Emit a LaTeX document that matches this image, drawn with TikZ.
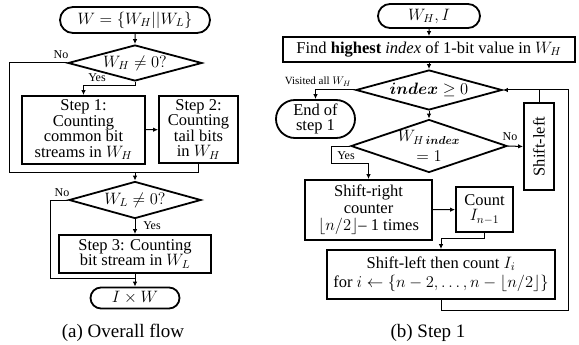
\documentclass[tikz,border=0pt]{standalone}
\usepackage{fix-cm}
\usepackage{amsmath}
\usepackage{fontspec}
\setmainfont{Liberation Serif}
\usepackage{tikz}
\usetikzlibrary{positioning,shapes.geometric,shapes.misc,arrows.meta}
\newcommand{\flowfont}{\fontsize{16.5}{15.5}\selectfont}
\newcommand{\lblfont}{\fontsize{12}{12}\selectfont}
\newcommand{\capfont}{\fontsize{19}{19}\selectfont}
\tikzset{>={Latex[length=5pt,width=4.5pt]}}
\tikzset{flowbox/.style={draw,line width=1.8pt,align=center,inner sep=0pt,font=\flowfont}}
\tikzset{termbox/.style={flowbox,rounded rectangle}}
\tikzset{decide/.style={flowbox,diamond,aspect=3}}
\tikzset{link/.style={line width=1pt}}
\tikzset{lbl/.style={inner sep=1pt,font=\lblfont}}
\tikzset{caption/.style={inner sep=0pt,font=\capfont}}

\begin{document}
\begin{tikzpicture}[x=1pt, y=-1pt]
    \useasboundingbox (0,0) rectangle (579,345);
    % (a) overall flow
    \node[termbox, minimum width=150pt, minimum height=26pt] (wsplit) at (135,20) {$W = \{W_H||W_L\}$};
    \node[decide, minimum width=134pt, minimum height=36pt] (ifhigh) at (135,63) {$W_H \neq 0?$};
    \node[flowbox, minimum width=123pt, minimum height=68pt] (step1) at (83.5,130) {Step 1:\\Counting\\common bit\\streams in $W_H$};
    \node[flowbox, minimum width=79pt, minimum height=67pt] (step2) at (198.5,129.5) {Step 2:\\Counting\\tail bits\\in $W_H$};
    \node[decide, minimum width=132pt, minimum height=37pt] (iflow) at (135,200) {$W_L \neq 0?$};
    \node[flowbox, minimum width=152pt, minimum height=38pt] (step3) at (135,254) {Step 3: Counting\\bit stream in $W_L$};
    \node[termbox, minimum width=89pt, minimum height=21pt] (result) at (135,298) {$I \times W$};
    \coordinate (joinhigh) at (135,172);
    \coordinate (joinlow) at (135,278);

    \node[lbl] (nohigh) at (61,55) {No};
    \node[lbl] (yeshigh) at (97,78) {Yes};
    \node[lbl] (nolow) at (62,193) {No};
    \node[lbl] (yeslow) at (152,226) {Yes};

    \draw[link,->] (wsplit) -- (ifhigh);
    \draw[link,->] (ifhigh.south) -- ++(0,4) -| (step1.north);
    \draw[link,->] (step1) -- (step2);
    \draw[link] (ifhigh.west) -- (9,63) |- (joinhigh);
    \draw[link] (step2.south) |- (joinhigh);
    \draw[link,->] (joinhigh) -- (iflow.north);
    \draw[link,->] (iflow) -- (step3);
    \draw[link] (iflow.west) -- (50,200) |- (joinlow);
    \draw[link] (step3.south) -- (joinlow);
    \draw[link,->] (joinlow) -- (result.north);

    \node[caption] (capa) at (123,333) {(a) Overall flow};

    % (b) step 1
    \node[termbox, minimum width=102pt, minimum height=24pt] (input) at (429,16) {$W_H, I$};
    \node[flowbox, minimum width=292pt, minimum height=25pt] (findidx) at (429,49.5) {Find \textbf{highest} \textit{index} of 1-bit value in $W_H$};
    \node[decide, minimum width=146pt, minimum height=40pt] (idxchk) at (429,90) {$\boldsymbol{index} \geq 0$};
    \node[termbox, minimum width=79pt, minimum height=38pt] (stop) at (315.5,119) {End of\\step 1};
    \node[decide, minimum width=156pt, minimum height=53pt, font=\fontsize{16.5}{20}\selectfont] (bitchk) at (429,146) {$W_{H\,\boldsymbol{index}}$\\$= 1$};
    \node[flowbox, rotate=90, minimum width=87pt, minimum height=30pt] (shl) at (539,146.5) {Shift-left};
    \node[flowbox, minimum width=127pt, minimum height=60pt, font=\fontsize{16.5}{17}\selectfont] (shr) at (368.5,210) {Shift-right\\counter\\$\lfloor n/2\rfloor$– 1 times};
    \node[flowbox, minimum width=57pt, minimum height=45pt] (cnt) at (484.5,209.5) {Count\\$I_{n-1}$};
    \node[flowbox, minimum width=228pt, minimum height=49pt, font=\fontsize{16.5}{19.5}\selectfont] (shlcnt) at (441,274.5) {Shift-left then count $I_i$\\for $i \leftarrow \{n-2, \ldots, n-\lfloor n/2\rfloor\}$};
    \coordinate (back) at (568,90);

    \node[lbl, font=\fontsize{11}{11}\selectfont] (visited) at (318,82) {Visited all $W_H$};
    \node[lbl] (nobit) at (510,137) {No};
    \node[lbl] (yesbit) at (346,156) {Yes};

    \draw[link,->] (input) -- (findidx);
    \draw[link,->] (findidx) -- (idxchk);
    \draw[link,->] (idxchk) -- (bitchk);
    \draw[link,->] (idxchk.west) -| (stop.north);
    \draw[link,->] (bitchk.east) -- (shl.north);
    \draw[link,->] (bitchk.west) -- ++(-19,0) -- ++(0,17) -| (shr.north);
    \draw[link,->] (shr) -- (cnt);
    \draw[link,->] (cnt.south) -- ++(0,6) -| (shlcnt.north);
    \draw[link,->] (shlcnt.south) -- ++(0,11) -| (back) -- (idxchk.east);
    \draw[link] (shl.east) -- (shl.east |- back);

    \node[caption] (capb) at (428,333) {(b) Step 1};
\end{tikzpicture}
\end{document}
